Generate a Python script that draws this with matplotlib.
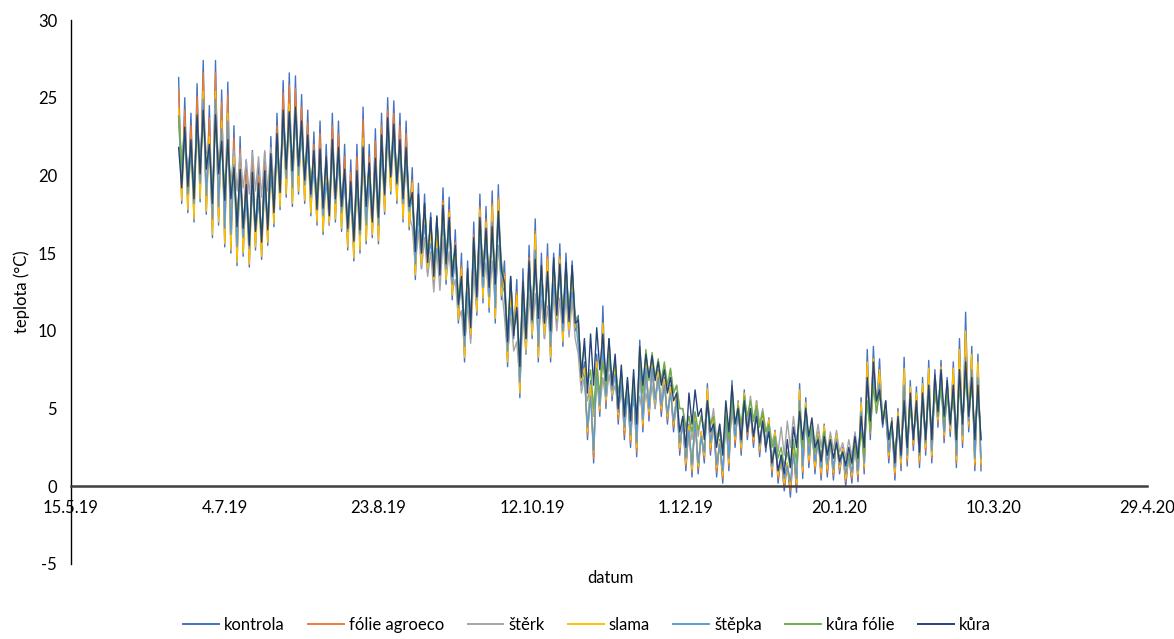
import numpy as np
import matplotlib
matplotlib.use("Agg")
import matplotlib.pyplot as plt
import matplotlib.dates as mdates
from matplotlib.lines import Line2D
from datetime import datetime, timedelta

plt.rcParams['font.family'] = ['Lato', 'DejaVu Sans']
plt.rcParams['axes.unicode_minus'] = False

# first logged day, each block = 2 days (daily max, then daily min)
start = datetime(2019, 6, 19)

kontrola_hi = [26.3, 25.0, 24.0, 25.9, 27.4, 24.5, 27.4, 25.5, 26.0, 23.2,
               22.5, 21.0, 21.6, 20.8, 21.5, 22.5, 24.0, 26.1, 26.6, 26.4,
               25.2, 24.2, 22.8, 23.5, 22.0, 24.0, 23.5, 22.0, 21.0, 22.0,
               24.4, 22.0, 23.0, 24.0, 25.0, 24.8, 24.0, 23.5, 20.5, 19.5,
               18.8, 17.6, 17.3, 19.2, 18.6, 16.5, 15.0, 14.5, 17.0, 18.8,
               18.0, 19.0, 19.4, 14.5, 13.5, 13.3, 14.0, 15.5, 17.2, 15.0,
               15.6, 15.0, 15.6, 15.0, 14.5, 11.0, 8.0, 6.8, 8.5, 11.6,
               9.5, 8.0, 7.5, 6.8, 7.0, 9.4, 8.3, 8.0, 7.5, 7.0,
               6.5, 6.0, 4.5, 4.0, 4.7, 3.5, 6.6, 4.5, 3.0, 5.0,
               6.8, 5.5, 6.2, 5.0, 5.5, 4.5, 4.4, 3.6, 2.0, 1.5,
               2.5, 6.6, 5.7, 4.2, 3.5, 4.0, 3.2, 3.4, 2.5, 2.1,
               3.0, 5.7, 8.8, 9.0, 8.2, 5.5, 4.4, 5.0, 8.3, 6.8,
               6.4, 7.0, 8.1, 7.5, 8.1, 7.0, 8.0, 9.5, 11.2, 9.0,
               8.5]
kontrola_lo = [18.2, 17.6, 17.0, 18.3, 17.5, 16.0, 16.8, 15.4, 15.0, 14.2,
               14.8, 14.1, 15.2, 14.6, 15.5, 16.7, 17.8, 18.6, 18.0, 18.8,
               18.2, 17.4, 16.8, 16.2, 16.8, 17.0, 16.4, 15.2, 14.5, 15.0,
               15.6, 16.0, 15.6, 17.5, 18.8, 18.2, 17.0, 16.5, 13.3, 14.0,
               13.7, 13.0, 13.5, 13.0, 12.0, 10.5, 8.0, 9.5, 11.0, 11.8,
               11.2, 10.5, 12.0, 7.7, 9.5, 5.7, 8.5, 9.5, 8.0, 9.5,
               8.0, 10.5, 9.0, 9.8, 10.0, 6.5, 3.0, 1.5, 4.5, 5.0,
               5.5, 4.0, 3.0, 2.5, 1.9, 3.5, 4.2, 5.0, 4.5, 4.0,
               3.5, 2.0, 1.0, 0.6, 0.8, 1.5, 2.0, 0.6, 0.2, 1.0,
               2.5, 2.0, 3.0, 2.5, 1.9, 2.2, 0.6, 0.2, -0.3, -0.7,
               -0.4, 0.5, 1.2, 0.8, 0.4, 0.6, 0.4, 0.8, 0.0, 0.2,
               0.3, 0.8, 3.0, 4.7, 3.8, 1.5, 0.4, 1.0, 1.3, 2.3,
               1.2, 2.0, 1.5, 3.8, 2.8, 3.2, 1.2, 2.5, 3.5, 1.0,
               1.0]

folie_hi = [25.5, 24.2, 23.2, 25.1, 26.6, 23.7, 26.6, 24.7, 25.2, 22.4,
            21.7, 20.2, 20.8, 20.0, 20.7, 21.7, 23.2, 25.3, 25.8, 25.6,
            24.4, 23.4, 22.0, 22.7, 21.2, 23.2, 22.7, 21.2, 20.2, 21.2,
            23.6, 21.2, 22.2, 23.2, 24.2, 24.0, 23.2, 22.7, 19.7, 18.7,
            18.0, 16.8, 16.5, 18.4, 17.8, 15.7, 14.2, 13.7, 16.2, 18.0,
            17.2, 18.2, 18.6, 13.7, 12.7, 12.5, 13.2, 14.7, 16.4, 14.2,
            14.8, 14.2, 14.8, 14.2, 13.7, 10.2, 7.5, 6.3, 8.0, 10.0,
            9.0, 7.6, 7.0, 6.5, 6.6, 8.8, 8.0, 7.8, 7.3, 6.8,
            6.3, 5.8, 4.3, 3.8, 4.4, 3.4, 6.0, 4.3, 2.8, 4.7,
            6.3, 5.2, 5.9, 4.8, 5.2, 4.3, 4.2, 3.4, 1.8, 1.4,
            2.3, 6.0, 5.2, 3.9, 3.3, 3.8, 3.0, 3.2, 2.4, 2.0,
            2.8, 5.2, 7.5, 7.8, 7.2, 5.0, 4.1, 4.6, 7.2, 6.1,
            5.8, 6.3, 7.2, 6.9, 7.3, 6.5, 7.2, 8.5, 9.5, 8.2,
            7.8]
folie_lo = [18.8, 18.2, 17.6, 18.9, 18.1, 16.6, 17.4, 16.0, 15.6, 14.8,
            15.4, 14.7, 15.8, 15.2, 16.1, 17.3, 18.4, 19.2, 18.6, 19.4,
            18.8, 18.0, 17.4, 16.8, 17.4, 17.6, 17.0, 15.8, 15.1, 15.6,
            16.2, 16.6, 16.2, 18.1, 19.4, 18.8, 17.6, 17.1, 13.8, 14.5,
            14.2, 13.5, 14.0, 13.5, 12.5, 11.0, 8.5, 10.0, 11.5, 12.3,
            11.7, 11.0, 12.5, 8.2, 10.0, 6.2, 9.0, 10.0, 8.5, 10.0,
            8.5, 11.0, 9.5, 10.3, 10.5, 7.0, 3.3, 1.8, 4.8, 5.3,
            5.8, 4.3, 3.3, 2.8, 2.2, 3.8, 4.5, 5.3, 4.8, 4.3,
            3.8, 2.3, 1.3, 0.9, 1.1, 1.8, 2.3, 0.9, 0.5, 1.3,
            2.8, 2.3, 3.3, 2.8, 2.2, 2.5, 0.9, 0.5, 0.0, -0.3,
            0.0, 0.9, 1.5, 1.1, 0.7, 0.9, 0.7, 1.0, 0.3, 0.5,
            0.6, 1.1, 3.4, 5.0, 4.1, 1.8, 0.7, 1.3, 1.6, 2.6,
            1.5, 2.3, 1.8, 4.1, 3.1, 3.5, 1.5, 2.8, 3.8, 1.3,
            1.3]

sterk_hi = [23.8, 22.8, 22.0, 23.6, 24.0, 21.8, 23.6, 22.0, 22.0, 21.6,
            21.4, 21.0, 21.5, 21.2, 21.6, 21.8, 22.0, 23.4, 23.3, 23.6,
            22.7, 21.8, 20.8, 20.9, 20.4, 21.5, 21.0, 19.6, 18.8, 19.5,
            21.0, 20.0, 20.3, 21.8, 22.9, 22.5, 21.5, 21.0, 16.7, 16.5,
            16.0, 15.1, 15.2, 15.9, 15.1, 13.3, 11.3, 11.8, 13.8, 15.1,
            14.4, 14.5, 15.5, 10.9, 11.3, 9.3, 11.0, 12.3, 12.4, 12.0,
            11.6, 12.5, 12.1, 12.2, 12.0, 8.5, 7.0, 6.5, 6.8, 7.0,
            7.2, 6.5, 6.2, 5.8, 5.5, 5.8, 6.0, 6.5, 7.2, 7.8,
            7.5, 6.5, 5.0, 4.5, 4.5, 4.6, 5.5, 5.0, 4.0, 4.2,
            4.8, 4.8, 5.5, 5.8, 5.5, 5.0, 4.2, 3.5, 3.8, 4.2,
            4.5, 4.5, 4.0, 3.8, 4.0, 3.8, 3.5, 3.6, 2.8, 3.0,
            3.5, 4.0, 5.5, 6.5, 6.0, 4.5, 3.8, 4.2, 5.5, 5.0,
            4.8, 5.5, 6.0, 6.5, 6.8, 6.2, 6.0, 7.0, 7.5, 6.8,
            6.5]
sterk_lo = [21.2, 20.3, 19.5, 21.1, 21.4, 19.2, 21.1, 19.4, 19.5, 19.0,
            19.2, 18.8, 19.0, 18.6, 19.0, 19.3, 19.6, 19.8, 19.7, 20.0,
            19.1, 18.2, 17.2, 17.3, 16.8, 17.9, 17.4, 16.0, 15.2, 15.9,
            17.4, 16.4, 16.7, 18.2, 19.3, 18.9, 17.9, 17.4, 14.1, 14.0,
            13.5, 12.5, 12.6, 13.3, 12.5, 10.7, 8.7, 9.2, 11.2, 12.5,
            11.8, 12.0, 12.9, 8.3, 8.7, 6.7, 8.5, 9.7, 9.8, 9.5,
            9.0, 10.0, 9.5, 9.6, 9.5, 6.0, 5.5, 4.5, 5.0, 5.5,
            5.8, 5.0, 4.8, 4.5, 4.2, 4.5, 4.8, 5.0, 5.5, 6.0,
            6.0, 5.0, 3.5, 3.0, 3.2, 3.5, 3.8, 3.0, 2.5, 2.8,
            3.2, 3.5, 4.0, 4.2, 4.0, 3.5, 2.8, 2.2, 2.0, 2.5,
            2.8, 2.8, 2.5, 2.6, 2.5, 2.2, 2.3, 2.2, 1.8, 1.9,
            2.2, 2.5, 3.5, 4.8, 4.5, 2.5, 1.8, 2.2, 2.5, 3.2,
            2.5, 3.2, 3.0, 4.5, 4.0, 4.2, 3.0, 3.8, 4.5, 3.0,
            3.0]

slama_hi = [24.3, 23.0, 22.0, 23.9, 25.4, 22.5, 25.4, 23.5, 24.0, 21.2,
            20.5, 19.0, 19.6, 18.8, 19.5, 20.5, 22.0, 24.1, 24.6, 24.4,
            23.2, 22.2, 20.8, 21.5, 20.0, 22.0, 21.5, 20.0, 19.0, 20.0,
            22.4, 20.0, 21.0, 22.0, 23.0, 22.8, 22.0, 21.5, 19.5, 18.5,
            17.8, 16.6, 16.3, 18.2, 17.6, 15.5, 14.0, 13.5, 16.0, 17.8,
            17.0, 18.0, 18.4, 13.5, 12.5, 12.3, 13.0, 14.5, 16.2, 14.0,
            14.6, 14.0, 14.6, 14.0, 13.5, 10.0, 7.6, 6.5, 8.0, 10.5,
            9.2, 7.7, 7.2, 6.6, 6.8, 9.0, 8.0, 7.9, 7.4, 6.9,
            6.4, 5.9, 4.4, 3.9, 4.6, 3.5, 6.3, 4.4, 2.9, 4.9,
            6.5, 5.4, 6.0, 4.9, 5.3, 4.4, 4.3, 3.5, 1.9, 1.5,
            2.4, 6.2, 5.4, 4.0, 3.4, 3.9, 3.1, 3.3, 2.4, 2.0,
            2.9, 5.4, 8.0, 8.2, 7.5, 5.2, 4.3, 4.8, 7.6, 6.4,
            6.0, 6.6, 7.6, 7.2, 7.7, 6.7, 7.6, 8.8, 10.0, 8.5,
            8.0]
slama_lo = [18.4, 17.8, 17.2, 18.5, 17.7, 16.2, 17.0, 15.6, 15.2, 14.4,
            15.0, 14.3, 15.4, 14.8, 15.7, 16.9, 18.0, 18.8, 18.2, 19.0,
            18.4, 17.6, 17.0, 16.4, 17.0, 17.2, 16.6, 15.4, 14.7, 15.2,
            15.8, 16.2, 15.8, 17.7, 19.0, 18.4, 17.2, 16.7, 13.6, 14.3,
            14.0, 13.3, 13.8, 13.3, 12.3, 10.8, 8.3, 9.8, 11.3, 12.1,
            11.5, 10.8, 12.3, 8.0, 9.8, 6.0, 8.8, 9.8, 8.3, 9.8,
            8.3, 10.8, 9.3, 10.1, 10.3, 6.8, 3.5, 2.2, 5.0, 5.6,
            6.0, 4.6, 3.6, 3.0, 2.5, 4.0, 4.8, 5.5, 5.0, 4.5,
            4.0, 2.5, 1.5, 1.1, 1.3, 2.0, 2.5, 1.2, 0.7, 1.5,
            3.0, 2.5, 3.5, 3.0, 2.4, 2.7, 1.1, 0.7, 0.2, 0.0,
            0.2, 1.0, 1.7, 1.3, 0.9, 1.1, 0.9, 1.2, 0.5, 0.7,
            0.8, 1.3, 3.6, 5.2, 4.3, 2.0, 0.9, 1.5, 1.8, 2.8,
            1.7, 2.5, 2.0, 4.3, 3.3, 3.7, 1.7, 3.0, 4.0, 1.5,
            1.5]

stepka_hi = [23.8, 22.5, 21.5, 23.4, 24.9, 22.0, 24.9, 23.0, 23.5, 20.7,
             20.0, 18.5, 19.1, 18.3, 19.0, 20.0, 21.5, 23.6, 24.1, 23.9,
             22.7, 21.7, 20.3, 21.0, 19.5, 21.5, 21.0, 19.5, 18.5, 19.5,
             21.9, 19.5, 20.5, 21.5, 22.5, 22.3, 21.5, 21.0, 18.5, 17.5,
             16.8, 15.6, 15.3, 17.2, 16.6, 14.5, 13.0, 12.5, 15.0, 16.8,
             16.0, 17.0, 17.4, 12.5, 11.5, 11.3, 12.0, 13.5, 15.2, 13.0,
             13.6, 13.0, 13.6, 13.0, 12.5, 9.0, 7.0, 5.8, 7.5, 9.0,
             8.5, 7.2, 6.7, 6.0, 6.2, 8.2, 7.6, 7.6, 7.0, 6.5,
             6.0, 5.5, 4.0, 3.6, 4.2, 3.2, 5.5, 4.0, 2.7, 4.5,
             6.0, 5.0, 5.6, 4.6, 4.9, 4.1, 3.9, 3.2, 1.7, 1.3,
             2.1, 5.5, 4.8, 3.6, 3.0, 3.5, 2.8, 3.0, 2.2, 1.9,
             2.6, 4.8, 6.8, 7.0, 6.6, 4.6, 3.9, 4.3, 6.5, 5.6,
             5.3, 5.8, 6.5, 6.5, 6.8, 6.0, 6.5, 7.5, 8.3, 7.5,
             7.0]
stepka_lo = [19.4, 18.8, 18.2, 19.5, 18.7, 17.2, 18.0, 16.6, 16.2, 15.4,
             16.0, 15.3, 16.4, 15.8, 16.7, 17.9, 19.0, 19.8, 19.2, 20.0,
             19.4, 18.6, 18.0, 17.4, 18.0, 18.2, 17.6, 16.4, 15.7, 16.2,
             16.8, 17.2, 16.8, 18.7, 20.0, 19.4, 18.2, 17.7, 14.3, 15.0,
             14.7, 14.0, 14.5, 14.0, 13.0, 11.5, 9.0, 10.5, 12.0, 12.8,
             12.2, 11.5, 13.0, 8.7, 10.5, 6.7, 9.5, 10.5, 9.0, 10.5,
             9.0, 11.5, 10.0, 10.8, 11.0, 7.5, 3.8, 2.3, 5.2, 5.8,
             6.2, 4.8, 3.8, 3.3, 2.8, 4.3, 5.0, 5.6, 5.2, 4.7,
             4.2, 2.8, 1.8, 1.4, 1.5, 2.2, 2.8, 1.4, 1.0, 1.8,
             3.2, 2.8, 3.7, 3.2, 2.6, 2.9, 1.3, 1.0, 0.5, 0.3,
             0.5, 1.3, 2.0, 1.6, 1.2, 1.4, 1.1, 1.4, 0.8, 0.9,
             1.0, 1.5, 3.8, 5.4, 4.5, 2.2, 1.2, 1.8, 2.0, 3.0,
             2.0, 2.8, 2.3, 4.5, 3.5, 3.9, 2.0, 3.3, 4.2, 1.8,
             1.8]

kura_folie_hi = [23.8, 22.9, 22.1, 23.7, 24.0, 21.8, 23.7, 22.0, 22.1, 20.3,
                 20.2, 19.2, 20.0, 19.3, 20.1, 21.2, 22.5, 24.0, 23.9, 24.2,
                 23.3, 22.4, 21.4, 21.5, 21.0, 22.1, 21.6, 20.2, 19.4, 20.1,
                 21.6, 20.6, 20.9, 22.4, 23.5, 23.1, 22.1, 21.6, 18.7, 18.5,
                 18.0, 17.1, 17.2, 17.9, 17.1, 15.3, 13.3, 13.8, 15.8, 17.1,
                 16.4, 16.5, 17.5, 12.9, 13.3, 11.3, 13.0, 14.3, 14.4, 14.0,
                 13.6, 14.5, 14.1, 14.2, 14.0, 10.5, 9.0, 7.5, 7.6, 8.0,
                 8.5, 8.0, 7.2, 6.5, 6.5, 8.5, 8.8, 8.6, 8.2, 8.0,
                 7.6, 6.5, 5.0, 4.5, 4.8, 4.5, 5.5, 4.5, 3.5, 4.5,
                 5.5, 5.2, 5.8, 5.5, 5.2, 4.8, 4.0, 3.2, 2.5, 2.2,
                 3.0, 5.0, 5.1, 3.8, 3.2, 3.5, 2.8, 2.6, 2.2, 2.0,
                 2.6, 3.5, 5.5, 6.5, 6.0, 4.8, 3.8, 4.0, 5.2, 5.0,
                 4.8, 5.5, 5.8, 6.2, 6.5, 6.0, 5.8, 6.5, 7.0, 6.5,
                 6.0]
kura_folie_lo = [20.6, 19.7, 18.9, 20.5, 20.8, 18.6, 20.5, 18.8, 18.9, 17.1,
                 17.0, 15.9, 16.8, 16.1, 16.9, 18.0, 19.3, 20.8, 20.7, 21.0,
                 20.1, 19.2, 18.2, 18.3, 17.8, 18.9, 18.4, 17.0, 16.2, 16.9,
                 18.4, 17.4, 17.7, 19.2, 20.3, 19.9, 18.9, 18.4, 15.7, 15.5,
                 15.0, 14.1, 14.2, 14.9, 14.1, 12.3, 10.3, 10.8, 12.8, 14.1,
                 13.4, 13.5, 14.5, 9.9, 10.3, 8.3, 10.0, 11.3, 11.4, 11.0,
                 10.6, 11.5, 11.1, 11.2, 11.0, 7.5, 6.5, 5.0, 6.0, 6.5,
                 7.0, 6.0, 5.2, 4.8, 4.5, 6.0, 6.8, 7.0, 6.8, 6.5,
                 6.0, 5.0, 3.8, 3.5, 3.6, 3.5, 4.0, 2.8, 2.2, 3.0,
                 4.0, 4.0, 4.5, 4.2, 3.8, 3.5, 2.5, 1.8, 1.3, 1.2,
                 1.5, 2.5, 2.8, 2.2, 1.8, 2.0, 1.8, 1.9, 1.5, 1.4,
                 1.6, 2.0, 3.5, 4.8, 4.5, 3.0, 2.2, 2.5, 3.0, 3.5,
                 3.0, 3.5, 3.5, 4.5, 4.2, 4.2, 3.0, 4.0, 4.5, 3.0,
                 3.0]

kura_hi = [21.8, 23.1, 22.3, 23.9, 24.2, 22.0, 23.9, 22.2, 22.3, 20.5,
           20.4, 19.4, 20.2, 19.5, 20.3, 21.4, 22.7, 24.2, 24.1, 24.4,
           23.5, 22.6, 21.6, 21.7, 21.2, 22.3, 21.8, 20.4, 19.6, 20.3,
           21.8, 20.8, 21.1, 22.6, 23.7, 23.3, 22.3, 21.8, 18.9, 18.8,
           18.2, 17.3, 17.4, 18.1, 17.3, 15.5, 13.5, 14.0, 16.0, 17.3,
           16.6, 16.7, 17.7, 13.1, 13.5, 11.5, 13.2, 14.5, 14.6, 14.2,
           13.8, 14.7, 14.3, 14.4, 14.2, 10.7, 9.5, 9.8, 10.2, 9.8,
           9.5, 8.5, 7.8, 7.0, 7.5, 9.0, 8.5, 8.4, 8.0, 7.5,
           7.0, 6.0, 4.5, 6.0, 6.2, 5.0, 5.5, 4.0, 4.0, 5.5,
           6.5, 5.0, 5.5, 5.0, 4.5, 4.2, 3.5, 2.5, 2.0, 3.0,
           3.8, 4.8, 5.0, 4.4, 3.0, 3.2, 3.0, 2.8, 2.2, 2.5,
           3.2, 4.5, 7.0, 8.0, 6.2, 5.5, 4.2, 4.5, 5.5, 6.0,
           5.5, 6.0, 6.5, 7.2, 7.5, 6.8, 6.5, 7.5, 8.0, 7.0,
           6.5]
kura_lo = [19.2, 19.3, 18.5, 20.1, 20.4, 18.2, 20.1, 18.4, 18.5, 16.7,
           16.6, 15.5, 16.4, 15.7, 16.5, 17.6, 18.9, 20.4, 20.3, 20.6,
           19.7, 18.8, 17.8, 17.9, 17.4, 18.5, 18.0, 16.6, 15.8, 16.5,
           18.0, 17.0, 17.3, 18.8, 19.9, 19.5, 18.5, 18.0, 15.1, 15.0,
           14.4, 13.5, 13.6, 14.3, 13.5, 11.7, 9.7, 10.2, 12.2, 13.5,
           12.8, 13.0, 13.9, 9.3, 9.7, 7.7, 9.5, 10.7, 10.8, 10.5,
           10.0, 11.0, 10.5, 10.6, 10.5, 7.0, 6.0, 6.5, 7.5, 6.8,
           6.5, 5.0, 4.5, 4.2, 4.0, 6.5, 7.0, 6.8, 6.5, 6.0,
           5.5, 3.5, 2.5, 4.0, 4.5, 3.0, 3.5, 2.5, 2.0, 3.5,
           4.0, 3.0, 3.5, 3.2, 2.8, 2.5, 1.5, 1.0, 0.8, 1.2,
           2.5, 3.0, 3.2, 2.5, 1.6, 2.0, 1.8, 1.6, 1.3, 1.5,
           1.8, 2.5, 4.2, 5.5, 4.0, 3.0, 1.5, 2.0, 2.5, 3.0,
           2.2, 3.0, 3.0, 4.8, 4.5, 4.0, 3.0, 4.0, 4.5, 3.0,
           3.0]

series = [
    ("kontrola", kontrola_hi, kontrola_lo, "#4472C4"),
    ("fólie agroeco", folie_hi, folie_lo, "#ED7D31"),
    ("štěrk", sterk_hi, sterk_lo, "#A5A5A5"),
    ("slama", slama_hi, slama_lo, "#FFC000"),
    ("štěpka", stepka_hi, stepka_lo, "#5B9BD5"),
    ("kůra fólie", kura_folie_hi, kura_folie_lo, "#70AD47"),
    ("kůra", kura_hi, kura_lo, "#264478"),
]

x_min = datetime(2019, 5, 15)
x_max = datetime(2020, 4, 29)


def zigzag(hi, lo):
    y = np.empty(2 * len(hi))
    y[0::2] = hi
    y[1::2] = lo
    return y


fig = plt.figure(figsize=(11.74, 6.39), dpi=100)
ax = fig.add_axes([0.0605, 0.1174, 0.9165, 0.8513])

t0 = mdates.date2num(start)
handles = []
for name, hi, lo, col in series:
    assert len(hi) == len(lo) == 131
    y = zigzag(hi, lo)
    t = t0 + np.arange(len(y))
    ax.plot(t, y, color=col, linewidth=1.0)
    handles.append(Line2D([], [], color=col, linewidth=1.4))

# axes like Excel
ax.set_xlim(mdates.date2num(x_min), mdates.date2num(x_max))
ax.set_ylim(-5, 30)
ax.set_yticks(range(-5, 31, 5))
ticks = [x_min + timedelta(days=50 * i) for i in range(8)]
ax.set_xticks([mdates.date2num(d) for d in ticks])
ax.set_xticklabels([f"{d.day}.{d.month}.{d.strftime('%y')}" for d in ticks])

for s in ['top', 'right']:
    ax.spines[s].set_visible(False)
ax.spines['left'].set_color('black')
ax.spines['left'].set_linewidth(1.0)
ax.spines['bottom'].set_position(('data', 0))
ax.spines['bottom'].set_color('#404040')
ax.spines['bottom'].set_linewidth(1.8)
ax.tick_params(axis='both', length=0, labelsize=12, colors='black')
ax.tick_params(axis='x', pad=10)
ax.tick_params(axis='y', pad=10)

fig.text(22 / 1174, 1 - 292 / 639, "teplota (°C)", rotation=90,
         ha='center', va='center', fontsize=12)
fig.text(610 / 1174, 1 - 578 / 639, "datum", ha='center', va='center',
         fontsize=12)

fig.legend(handles, [s[0] for s in series], loc='lower center',
           bbox_to_anchor=(0.5, -0.014), ncol=7, frameon=False, fontsize=12,
           handlelength=2.15, handletextpad=0.3, columnspacing=1.4)

fig.savefig("out.png", dpi=100)
